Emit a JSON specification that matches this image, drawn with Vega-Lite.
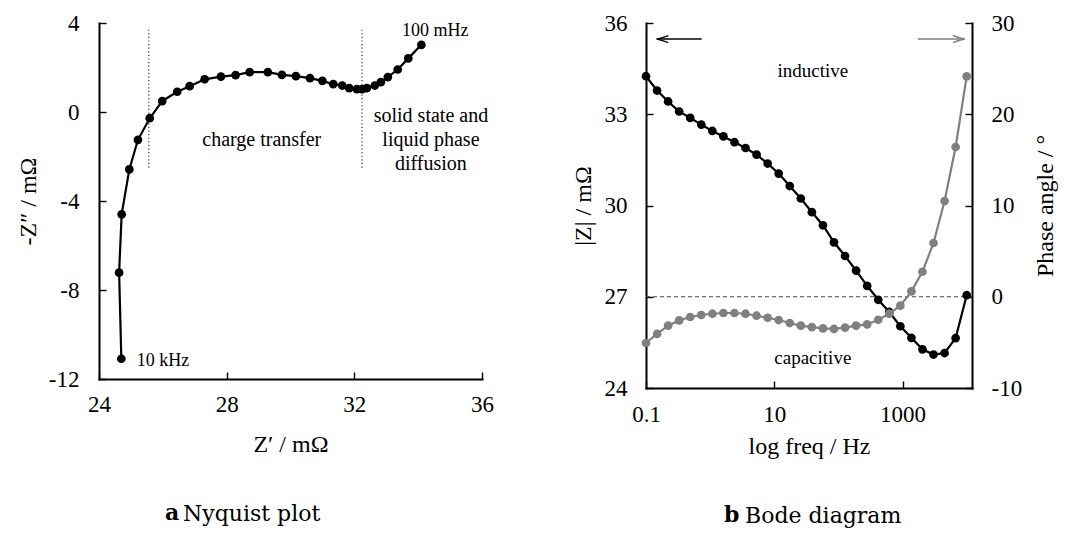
{
  "$schema": "https://vega.github.io/schema/vega-lite/v6.json",
  "background": "white",
  "padding": {"left": 16, "top": 12, "right": 5, "bottom": 5},
  "spacing": 77,
  "config": {
    "font": "Liberation Serif, Times New Roman, DejaVu Serif, serif",
    "view": {"stroke": null},
    "axis": {
      "domainColor": "black", "domainWidth": 2, "domainCap": "square",
      "tickColor": "black", "tickWidth": 1.4, "tickSize": -7,
      "labelFont": "Liberation Serif, Times New Roman, DejaVu Serif, serif", "labelFontSize": 23, "labelColor": "black",
      "titleFont": "Liberation Serif, Times New Roman, DejaVu Serif, serif", "titleFontSize": 24, "titleFontWeight": "normal", "titleColor": "black",
      "grid": false, "labelFlush": false, "labelOverlap": false
    },
    "title": {"font": "DejaVu Serif, serif", "fontSize": 22, "color": "black"},
    "text": {"font": "Liberation Serif, Times New Roman, DejaVu Serif, serif", "color": "black"}
  },
  "datasets": {
    "nyquist": [
      {"i": 1, "zr": 24.70, "zi": -11.09},
      {"i": 2, "zr": 24.63, "zi": -7.22},
      {"i": 3, "zr": 24.71, "zi": -4.60},
      {"i": 4, "zr": 24.95, "zi": -2.58},
      {"i": 5, "zr": 25.22, "zi": -1.25},
      {"i": 6, "zr": 25.59, "zi": -0.28},
      {"i": 7, "zr": 25.98, "zi": 0.49},
      {"i": 8, "zr": 26.45, "zi": 0.91},
      {"i": 9, "zr": 26.84, "zi": 1.16},
      {"i": 10, "zr": 27.31, "zi": 1.47},
      {"i": 11, "zr": 27.82, "zi": 1.59},
      {"i": 12, "zr": 28.28, "zi": 1.66},
      {"i": 13, "zr": 28.72, "zi": 1.79},
      {"i": 14, "zr": 29.29, "zi": 1.79},
      {"i": 15, "zr": 29.73, "zi": 1.67},
      {"i": 16, "zr": 30.17, "zi": 1.61},
      {"i": 17, "zr": 30.61, "zi": 1.52},
      {"i": 18, "zr": 31.00, "zi": 1.40},
      {"i": 19, "zr": 31.34, "zi": 1.25},
      {"i": 20, "zr": 31.62, "zi": 1.19},
      {"i": 21, "zr": 31.84, "zi": 1.07},
      {"i": 22, "zr": 32.08, "zi": 1.03},
      {"i": 23, "zr": 32.24, "zi": 1.03},
      {"i": 24, "zr": 32.39, "zi": 1.07},
      {"i": 25, "zr": 32.64, "zi": 1.19},
      {"i": 26, "zr": 32.83, "zi": 1.34},
      {"i": 27, "zr": 33.05, "zi": 1.57},
      {"i": 28, "zr": 33.36, "zi": 1.91},
      {"i": 29, "zr": 33.69, "zi": 2.41},
      {"i": 30, "zr": 34.10, "zi": 3.02}
    ],
    "bode": [
      {"f": 0.1, "z": 34.25, "ph": -5.07},
      {"f": 0.1487, "z": 33.78, "ph": -4.08},
      {"f": 0.2212, "z": 33.42, "ph": -3.17},
      {"f": 0.329, "z": 33.09, "ph": -2.59},
      {"f": 0.4894, "z": 32.88, "ph": -2.22},
      {"f": 0.7279, "z": 32.66, "ph": -2.00},
      {"f": 1.083, "z": 32.45, "ph": -1.86},
      {"f": 1.61, "z": 32.27, "ph": -1.78},
      {"f": 2.395, "z": 32.08, "ph": -1.78},
      {"f": 3.562, "z": 31.89, "ph": -1.86},
      {"f": 5.298, "z": 31.67, "ph": -2.08},
      {"f": 7.88, "z": 31.38, "ph": -2.30},
      {"f": 11.72, "z": 31.05, "ph": -2.55},
      {"f": 17.43, "z": 30.64, "ph": -2.88},
      {"f": 25.93, "z": 30.23, "ph": -3.17},
      {"f": 38.57, "z": 29.78, "ph": -3.32},
      {"f": 57.37, "z": 29.35, "ph": -3.47},
      {"f": 85.32, "z": 28.79, "ph": -3.53},
      {"f": 126.9, "z": 28.34, "ph": -3.39},
      {"f": 188.7, "z": 27.86, "ph": -3.17},
      {"f": 280.7, "z": 27.36, "ph": -3.03},
      {"f": 417.6, "z": 26.90, "ph": -2.52},
      {"f": 621.1, "z": 26.50, "ph": -1.86},
      {"f": 923.7, "z": 26.03, "ph": -0.98},
      {"f": 1374, "z": 25.65, "ph": 0.59},
      {"f": 2043, "z": 25.27, "ph": 2.74},
      {"f": 3039, "z": 25.10, "ph": 5.89},
      {"f": 4520, "z": 25.15, "ph": 10.49},
      {"f": 6723, "z": 25.64, "ph": 16.41},
      {"f": 10000, "z": 27.05, "ph": 24.15}
    ]
  },
  "hconcat": [
    {
      "title": {"text": "a", "orient": "bottom", "anchor": "start", "frame": "group", "dx": 66, "dy": -22, "offset": 0, "fontWeight": "bold"},
      "bounds": "flush",
      "hconcat": [
        {
          "width": 383,
          "height": 356,
          "title": {"text": "Nyquist plot", "orient": "bottom", "anchor": "start", "frame": "group", "dx": 84, "offset": 48, "fontWeight": "normal"},
          "encoding": {
            "x": {"field": "zr", "type": "quantitative", "scale": {"domain": [24, 36], "nice": false, "zero": false},
                  "axis": {"values": [24, 28, 32, 36], "title": "Z′ / mΩ", "labelPadding": 21, "titleY": 72, "titleBaseline": "alphabetic"}},
            "y": {"field": "zi", "type": "quantitative", "scale": {"domain": [-12, 4], "nice": false, "zero": false},
                  "axis": {"values": [-12, -8, -4, 0, 4], "title": "-Z″ / mΩ", "labelPadding": 27, "titleX": -64, "titleAngle": -90, "titleBaseline": "alphabetic", "labelExpr": "replace(datum.label, '−', '-')"}}
          },
          "layer": [
            {
              "data": {"values": [{"zr": 25.56, "zi": -2.5, "zi2": 3.8}, {"zr": 32.24, "zi": -2.5, "zi2": 3.8}]},
              "mark": {"type": "rule", "strokeDash": [1.2, 2.4], "strokeWidth": 1.2, "color": "#333333"},
              "encoding": {"y2": {"field": "zi2"}}
            },
            {
              "data": {"name": "nyquist"},
              "mark": {"type": "line", "color": "black", "strokeWidth": 2.2},
              "encoding": {"order": {"field": "i", "type": "quantitative"}}
            },
            {
              "data": {"name": "nyquist"},
              "mark": {"type": "point", "filled": true, "color": "black", "size": 76, "opacity": 1}
            },
            {
              "data": {"values": [{"zr": 33.49, "zi": 3.43, "label": "100 mHz"}, {"zr": 25.18, "zi": -11.42, "label": "10 kHz"}]},
              "mark": {"type": "text", "fontSize": 18, "align": "left", "baseline": "alphabetic"},
              "encoding": {"text": {"field": "label"}}
            },
            {
              "data": {"values": [{"zr": 29.10, "zi": -1.52, "label": "charge transfer"}, {"zr": 34.40, "zi": -0.44, "label": "solid state and\nliquid phase\ndiffusion"}]},
              "mark": {"type": "text", "fontSize": 20, "align": "center", "baseline": "alphabetic", "lineBreak": "\n", "lineHeight": 24},
              "encoding": {"text": {"field": "label"}}
            }
          ]
        }
      ]
    },
    {
      "title": {"text": "b", "orient": "bottom", "anchor": "start", "frame": "group", "dx": 78, "dy": -22, "offset": 0, "fontWeight": "bold"},
      "bounds": "flush",
      "hconcat": [
        {
          "width": 326,
          "height": 365,
          "title": {"text": "Bode diagram", "orient": "bottom", "anchor": "start", "frame": "group", "dx": 99, "offset": 48, "fontWeight": "normal"},
          "encoding": {
            "x": {"field": "f", "type": "quantitative", "scale": {"type": "log", "domain": [0.1, 12100], "nice": false},
                  "axis": {"values": [0.1, 10, 1000], "format": "~g", "title": "log freq / Hz", "labelPadding": 22, "titleY": 65, "titleBaseline": "alphabetic"}}
          },
          "resolve": {"scale": {"y": "independent"}},
          "layer": [
            {
              "encoding": {
                "y": {"field": "z", "type": "quantitative", "scale": {"domain": [24, 36], "nice": false, "zero": false},
                      "axis": {"orient": "left", "values": [24, 27, 30, 33, 36], "title": "|Z| / mΩ", "labelPadding": 26, "titleX": -56, "titleAngle": -90, "titleBaseline": "alphabetic"}}
              },
              "layer": [
                {
                  "data": {"values": [{"f": 0.1, "f2": 12100, "z": 27}]},
                  "mark": {"type": "rule", "strokeDash": [4, 3], "strokeWidth": 1, "color": "#444444"},
                  "encoding": {"x2": {"field": "f2"}}
                },
                {
                  "data": {"name": "bode"},
                  "mark": {"type": "line", "color": "black", "strokeWidth": 2.2}
                },
                {
                  "data": {"name": "bode"},
                  "mark": {"type": "point", "filled": true, "color": "black", "size": 76, "opacity": 1}
                },
                {
                  "data": {"values": [{"f": 0.1468, "f2": 0.7375, "z": 35.47}]},
                  "mark": {"type": "rule", "color": "black", "strokeWidth": 1.5},
                  "encoding": {"x2": {"field": "f2"}}
                },
                {
                  "data": {"values": [{"f": 0.1468, "z": 35.47}]},
                  "mark": {"type": "point", "shape": "M1,-0.3Q0.35,-0.05 0,0Q0.35,0.05 1,0.3", "size": 540, "filled": false, "color": "black", "strokeWidth": 1.5, "opacity": 1}
                },
                {
                  "data": {"values": [{"f": 39.9, "z": 34.24, "label": "inductive"}, {"f": 39.9, "z": 24.79, "label": "capacitive"}]},
                  "mark": {"type": "text", "fontSize": 19, "align": "center", "baseline": "alphabetic"},
                  "encoding": {"text": {"field": "label"}}
                }
              ]
            },
            {
              "encoding": {
                "y": {"field": "ph", "type": "quantitative", "scale": {"domain": [-10, 30], "nice": false, "zero": false},
                      "axis": {"orient": "right", "values": [-10, 0, 10, 20, 30], "title": "Phase angle / °", "labelPadding": 26, "titleX": 80, "titleAngle": -90, "titleBaseline": "alphabetic", "labelExpr": "replace(datum.label, '−', '-')"}}
              },
              "layer": [
                {
                  "data": {"name": "bode"},
                  "mark": {"type": "line", "color": "#808080", "strokeWidth": 2.2}
                },
                {
                  "data": {"name": "bode"},
                  "mark": {"type": "point", "filled": true, "color": "#808080", "size": 76, "opacity": 1}
                },
                {
                  "data": {"values": [{"f": 1726, "f2": 9311, "ph": 28.25}]},
                  "mark": {"type": "rule", "color": "#808080", "strokeWidth": 1.5},
                  "encoding": {"x2": {"field": "f2"}}
                },
                {
                  "data": {"values": [{"f": 9311, "ph": 28.25}]},
                  "mark": {"type": "point", "shape": "M-1,-0.3Q-0.35,-0.05 0,0Q-0.35,0.05 -1,0.3", "size": 540, "filled": false, "color": "#808080", "strokeWidth": 1.5, "opacity": 1}
                }
              ]
            }
          ]
        }
      ]
    }
  ]
}
